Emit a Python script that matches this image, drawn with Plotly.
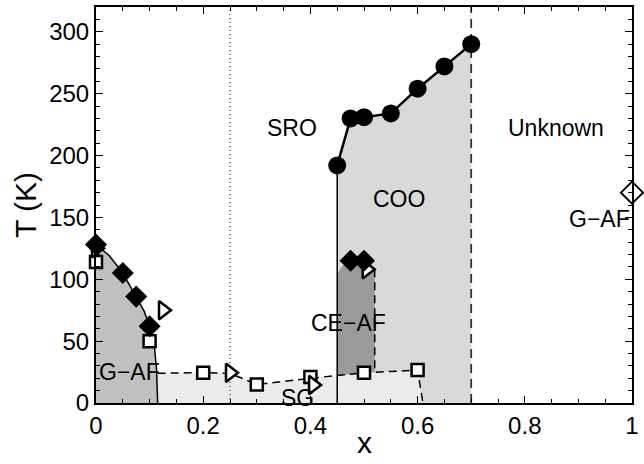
import plotly.graph_objects as go

# Charge-ordering transition (filled circles)
coo_x = [0.45, 0.475, 0.5, 0.55, 0.6, 0.65, 0.7]
coo_T = [192, 230, 231, 234, 254, 272, 290]

# Filled diamonds (G-AF and CE-AF Neel temperatures)
dia_x = [0.0, 0.05, 0.075, 0.1, 0.475, 0.5]
dia_T = [128, 105, 86, 62, 115, 115]

# Open squares
sq_x = [0.0, 0.1, 0.2, 0.3, 0.4, 0.5, 0.6]
sq_T = [114, 50, 24.5, 15, 21, 24.4, 26.6]

# Open right-pointing triangles
tri_x = [0.0, 0.125, 0.25, 0.405, 0.505]
tri_T = [125, 75, 24.5, 14.5, 108]

# Open diamond at x = 1
od_x = [1.0]
od_T = [170]

# Phase boundaries (guides to the eye)
gaf_bx = [0.0, 0.025, 0.05, 0.075, 0.09, 0.1, 0.108, 0.113, 0.115]
gaf_bT = [128, 119, 105, 86, 74, 62, 50, 27, 0]

sg_bx = [0.115, 0.2, 0.25, 0.3, 0.4, 0.5, 0.6, 0.61]
sg_bT = [24, 24.5, 24, 15, 20, 24.4, 26.6, 0]

ceaf_bx = [0.45, 0.46, 0.475, 0.5, 0.515, 0.52]
ceaf_bT = [104, 111, 115, 115, 111, 108]

x_ticks = [0, 0.2, 0.4, 0.6, 0.8, 1.0]
x_ticktext = ["0", "0.2", "0.4", "0.6", "0.8", "1"]
y_ticks = [0, 50, 100, 150, 200, 250, 300]

x_sro, x_coo_end, T_top = 0.25, 0.7, 320

labels = ["SRO", "Unknown", "COO", "CE\u2212AF", "G\u2212AF", "G\u2212AF", "SG"]
label_x = [0.366, 0.858, 0.565, 0.472, 0.063, 0.94, 0.375]
label_T = [222, 222, 165, 65, 25, 149, 4]

FONT = "Liberation Sans, Arial, sans-serif"

fig = go.Figure()

# Shaded phase regions
fig.add_trace(go.Scatter(
    x=[coo_x[0]] + coo_x + [coo_x[-1]],
    y=[0] + coo_T + [0],
    fill="toself", fillcolor="#d9d9d9", line=dict(width=0),
    mode="lines", hoverinfo="skip"))
fig.add_trace(go.Scatter(
    x=[ceaf_bx[0]] + ceaf_bx + [ceaf_bx[-1]],
    y=[0] + ceaf_bT + [0],
    fill="toself", fillcolor="#9a9a9a", line=dict(width=0),
    mode="lines", hoverinfo="skip"))
fig.add_trace(go.Scatter(
    x=[0] + gaf_bx,
    y=[0] + gaf_bT,
    fill="toself", fillcolor="#c0c0c0", line=dict(width=0),
    mode="lines", hoverinfo="skip"))
fig.add_trace(go.Scatter(
    x=[sg_bx[0]] + sg_bx,
    y=[0] + sg_bT,
    fill="toself", fillcolor="#ebebeb", line=dict(width=0),
    mode="lines", hoverinfo="skip"))

# Boundary lines
fig.add_trace(go.Scatter(x=[x_sro, x_sro], y=[0, T_top], mode="lines",
                         line=dict(color="#444", width=1.2, dash="1px,3px")))
fig.add_trace(go.Scatter(x=[x_coo_end, x_coo_end], y=[0, T_top], mode="lines",
                         line=dict(color="#333", width=1.8, dash="9px,6px")))
fig.add_trace(go.Scatter(x=[coo_x[0], coo_x[0]], y=[0, coo_T[0]], mode="lines",
                         line=dict(color="black", width=1.5)))
fig.add_trace(go.Scatter(x=gaf_bx, y=gaf_bT, mode="lines",
                         line=dict(color="black", width=1.5)))
fig.add_trace(go.Scatter(x=sg_bx, y=sg_bT, mode="lines",
                         line=dict(color="black", width=1.5, dash="8px,5px")))
fig.add_trace(go.Scatter(x=[ceaf_bx[-1], ceaf_bx[-1]], y=[ceaf_bT[-1], 26],
                         mode="lines",
                         line=dict(color="black", width=1.5, dash="8px,5px")))

# Data markers
fig.add_trace(go.Scatter(x=sq_x, y=sq_T, mode="markers", cliponaxis=False,
                         marker=dict(symbol="square", size=12, color="white",
                                     line=dict(color="black", width=2.5))))
fig.add_trace(go.Scatter(x=tri_x, y=tri_T, mode="markers", cliponaxis=False,
                         marker=dict(symbol="triangle-right", size=16, color="white",
                                     line=dict(color="black", width=2.5))))
fig.add_trace(go.Scatter(x=dia_x, y=dia_T, mode="markers", cliponaxis=False,
                         marker=dict(symbol="diamond", size=17, color="black",
                                     line=dict(color="black", width=0))))
fig.add_trace(go.Scatter(x=od_x, y=od_T, mode="markers", cliponaxis=False,
                         marker=dict(symbol="diamond", size=17, color="white",
                                     line=dict(color="black", width=2))))
fig.add_trace(go.Scatter(x=coo_x, y=coo_T, mode="lines+markers", cliponaxis=False,
                         line=dict(color="black", width=2.5),
                         marker=dict(symbol="circle", size=18, color="black")))

for txt, lx, lT in zip(labels, label_x, label_T):
    fig.add_annotation(x=lx, y=lT, text=txt, showarrow=False,
                       font=dict(family=FONT, size=23, color="black"))

# x-axis title placed just under the tick labels
fig.add_annotation(x=0.5, y=-0.101, xref="paper", yref="paper", text="x",
                   showarrow=False, yanchor="middle",
                   font=dict(family=FONT, size=30, color="black"))

axis_common = dict(
    showgrid=False, zeroline=False, showline=True, linecolor="black",
    linewidth=2, mirror="allticks", ticks="inside", ticklen=7, tickwidth=1.2,
    tickcolor="black", tickfont=dict(family=FONT, size=24, color="black"),
    automargin=False,
)

fig.update_layout(
    width=644, height=464,
    margin=dict(l=96, r=12, t=7, b=61),
    paper_bgcolor="white", plot_bgcolor="white",
    showlegend=False,
    xaxis=dict(range=[0, 1], tickvals=x_ticks, ticktext=x_ticktext,
               minor=dict(dtick=0.05, ticks="inside", ticklen=4, tickcolor="black"),
               **axis_common),
    yaxis=dict(range=[0, T_top], tickvals=y_ticks,
               minor=dict(dtick=10, ticks="inside", ticklen=4, tickcolor="black"),
               title=dict(text="T (K)", font=dict(family=FONT, size=30, color="black"),
                          standoff=4),
               **axis_common),
)

fig.write_html("out.html")
